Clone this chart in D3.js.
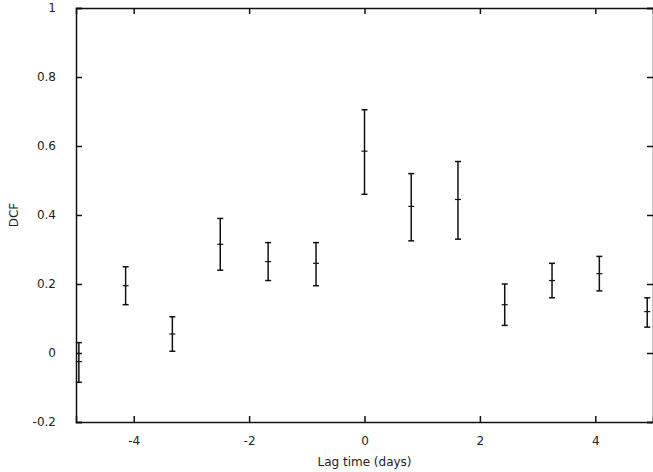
<!DOCTYPE html><html><head><meta charset="utf-8"><script src="https://cdn.jsdelivr.net/npm/d3@7"></script>
<style>body{margin:0;background:#fff}text{font-family:"DejaVu Sans",sans-serif;font-size:12px}</style></head><body>
<svg id="c" width="653" height="472"></svg>
<script>
const lag=[-4.95,-4.14,-3.33,-2.5,-1.67,-0.84,0,0.81,1.62,2.43,3.25,4.07,4.9];
const dcf=[-0.025,0.195,0.055,0.315,0.265,0.26,0.585,0.425,0.445,0.14,0.21,0.23,0.12];
const lo=[-0.085,0.14,0.005,0.24,0.21,0.195,0.46,0.325,0.33,0.08,0.16,0.18,0.075];
const hi=[0.03,0.25,0.105,0.39,0.32,0.32,0.705,0.52,0.555,0.2,0.26,0.28,0.16];
const xTicks=[-4,-2,0,2,4], yTicks=[-0.2,0,0.2,0.4,0.6,0.8,1];
const svg=d3.select("#c");
const L=76,R=653,T=8,B=422;
const x=d3.scaleLinear().domain([-5,5]).range([L,R]);
const y=d3.scaleLinear().domain([-0.2,1]).range([B,T]);
const g=svg.append("g");
g.append("g").attr("transform",`translate(0,${B})`).call(d3.axisBottom(x).tickValues(xTicks).tickSize(-6).tickPadding(14).tickFormat(d=>String(d)));
g.append("g").attr("transform",`translate(${L},0)`).call(d3.axisLeft(y).tickValues(yTicks).tickSize(-6).tickPadding(20).tickFormat(d=>d===0?"0":d===1?"1":d.toFixed(1)));
g.append("g").attr("transform",`translate(${R},0)`).call(d3.axisRight(y).tickValues(yTicks).tickSize(-6).tickFormat(""));
g.append("g").attr("transform",`translate(0,${T})`).call(d3.axisTop(x).tickValues(xTicks).tickSize(-6).tickFormat(""));
svg.selectAll(".domain").attr("stroke","#111").attr("stroke-width",1.5);
svg.selectAll(".tick line").attr("stroke","#111").attr("stroke-width",1.5);
svg.selectAll(".tick text").attr("fill","#222").style("font-size","12px");
const d=lag.map((v,i)=>({x:v,y:dcf[i],lo:lo[i],hi:hi[i]}));
const p=svg.append("g").attr("stroke","#111").attr("stroke-width",1.5);
d.forEach(e=>{const cx=x(e.x);
p.append("line").attr("x1",cx).attr("x2",cx).attr("y1",y(e.lo)).attr("y2",y(e.hi));
[e.lo,e.hi].forEach(v=>p.append("line").attr("x1",cx-3).attr("x2",cx+3).attr("y1",y(v)).attr("y2",y(v)));
p.append("line").attr("x1",cx-3).attr("x2",cx+3).attr("y1",y(e.y)).attr("y2",y(e.y)).attr("stroke-width",1.2);});
svg.append("text").attr("x",(L+R)/2).attr("y",466).attr("text-anchor","middle").attr("fill","#222").text("Lag time (days)");
svg.append("text").attr("transform",`translate(18,${(T+B)/2}) rotate(-90)`).attr("text-anchor","middle").attr("fill","#222").text("DCF");
</script></body></html>
